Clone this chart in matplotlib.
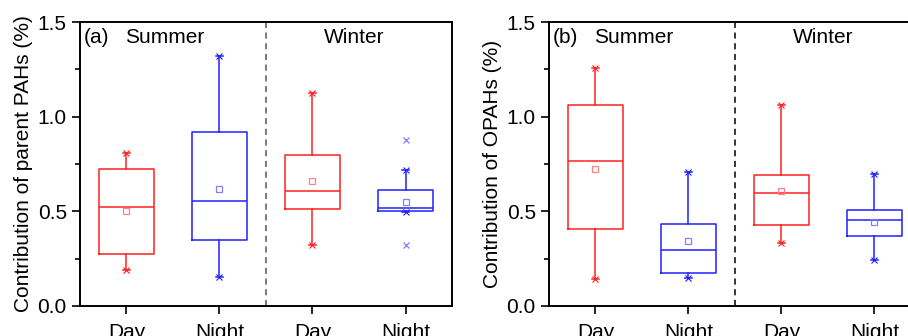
import numpy as np
import matplotlib.pyplot as plt
from matplotlib.ticker import MultipleLocator

plt.rcParams['font.family'] = ['Liberation Sans', 'DejaVu Sans']

# categories and box statistics
labels = ["Day", "Night", "Day", "Night"]
colors = ["#FF2020", "#2020FF", "#FF2020", "#2020FF"]
mean_colors = ["#FF8080", "#8080FF", "#FF8080", "#8080FF"]

# panel (a): parent PAHs
pah_whislo = [0.192, 0.153, 0.322, 0.495]
pah_q1 = [0.273, 0.350, 0.511, 0.500]
pah_med = [0.525, 0.555, 0.609, 0.518]
pah_q3 = [0.725, 0.919, 0.796, 0.611]
pah_whishi = [0.808, 1.319, 1.127, 0.717]
pah_mean = [0.502, 0.618, 0.660, 0.548]
pah_fliers = [[], [], [], [0.877, 0.322]]

# panel (b): OPAHs
opah_whislo = [0.141, 0.150, 0.335, 0.245]
opah_q1 = [0.405, 0.174, 0.430, 0.368]
opah_med = [0.766, 0.294, 0.597, 0.454]
opah_q3 = [1.063, 0.433, 0.692, 0.509]
opah_whishi = [1.255, 0.710, 1.063, 0.695]
opah_mean = [0.724, 0.345, 0.607, 0.444]
opah_fliers = [[], [], [], []]

fs = 15


def draw_panel(ax, whislo, q1, med, q3, whishi, mean, fliers, tag, ylabel, divcolor):
    pos = np.arange(1, len(labels) + 1)
    for i in range(len(labels)):
        st = [dict(whislo=whislo[i], q1=q1[i], med=med[i], q3=q3[i],
                   whishi=whishi[i], mean=mean[i], fliers=fliers[i])]
        c = colors[i]
        ax.bxp(st, positions=[pos[i]], widths=0.6, showmeans=True,
               showfliers=True, manage_ticks=False,
               boxprops=dict(color=c, lw=1.1),
               medianprops=dict(color=c, lw=1.1),
               whiskerprops=dict(color=c, lw=1.1),
               capprops=dict(color=c, lw=1.1),
               capwidths=0.08,
               meanprops=dict(marker='s', mfc='none', mec=mean_colors[i],
                              ms=4.5, mew=0.9),
               flierprops=dict(marker='x', mec=mean_colors[i], ms=4.5, mew=0.9))
        # whisker end (min / max) markers
        ax.plot([pos[i], pos[i]], [whislo[i], whishi[i]], ls='none', marker='x',
                mec=c, ms=5, mew=0.8)

    ax.axvline(2.5, color=divcolor, ls=(0, (4, 3)), lw=1.1)
    ax.set_xlim(0.5, 4.5)
    ax.set_ylim(0, 1.5)
    ax.set_xticks(pos)
    ax.set_xticklabels(labels)
    ax.yaxis.set_major_locator(MultipleLocator(0.5))
    ax.yaxis.set_minor_locator(MultipleLocator(0.25))
    ax.yaxis.set_major_formatter(plt.FormatStrFormatter('%.1f'))
    ax.tick_params(axis='both', which='major', direction='out', length=6,
                   width=1.2, labelsize=fs)
    ax.tick_params(axis='y', which='minor', direction='out', length=3.5, width=1.2)
    ax.tick_params(axis='x', pad=6)
    for s in ax.spines.values():
        s.set_linewidth(1.4)
    ax.set_ylabel(ylabel, fontsize=fs, labelpad=3)
    ax.text(0.54, 1.42, tag, fontsize=fs, va='center', ha='left')
    ax.text(1.41, 1.42, "Summer", fontsize=fs, va='center', ha='center')
    ax.text(3.45, 1.42, "Winter", fontsize=fs, va='center', ha='center')


fig = plt.figure(figsize=(9.08, 3.36), dpi=100)
ax1 = fig.add_axes([0.0881, 0.0893, 0.4097, 0.8452])
ax2 = fig.add_axes([0.6046, 0.0893, 0.4097, 0.8452])

draw_panel(ax1, pah_whislo, pah_q1, pah_med, pah_q3, pah_whishi, pah_mean,
           pah_fliers, "(a)", "Contribution of parent PAHs (%)", "#555555")
draw_panel(ax2, opah_whislo, opah_q1, opah_med, opah_q3, opah_whishi, opah_mean,
           opah_fliers, "(b)", "Contribution of OPAHs (%)", "#000000")

fig.savefig("out.png", dpi=100)
